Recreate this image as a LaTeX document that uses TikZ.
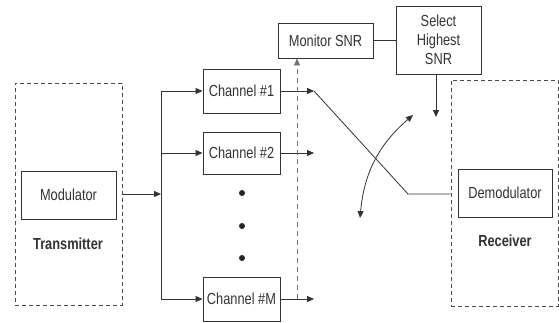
\documentclass[tikz,border=0pt]{standalone}
\usepackage{fontspec}
\setmainfont[FakeStretch=0.8]{Liberation Sans}
\usetikzlibrary{arrows.meta}
\begin{document}
\begin{tikzpicture}[x=1pt,y=-1pt,
  every node/.style={font=\fontsize{16}{19}\selectfont, text=black!80},
  blk/.style={draw=black!80, line width=0.9pt, rectangle, inner sep=0pt, align=center},
  dbox/.style={draw=black!70, line width=0.9pt, dash pattern=on 4pt off 3pt, rectangle, inner sep=0pt},
  conn/.style={draw=black!80, line width=0.8pt},
  arr/.style={conn, -{Triangle[length=7pt,width=6pt]}},
  lbl/.style={font=\fontsize{16}{19}\selectfont\bfseries}]
\useasboundingbox (0,0) rectangle (559,322);

% transmitter
\node[dbox, minimum width=107pt, minimum height=222pt] (tx) at (68.5,194) {};
\node[blk, minimum width=95pt, minimum height=48pt] (mod) at (68.5,195) {Modulator};
\node[lbl] (txl) at (68,244) {Transmitter};

% splitter
\coordinate (j1) at (161,91);
\coordinate (jm) at (161,299);
\coordinate (jin) at (161,194);
\draw[arr] (tx.east |- jin) -- (jin);
\draw[conn] (j1) -- (jm);

% channels
\node[blk, minimum width=77pt, minimum height=44pt] (c1) at (241.5,91) {Channel \#1};
\node[blk, minimum width=77pt, minimum height=42pt] (c2) at (241.5,153) {Channel \#2};
\node[blk, minimum width=77pt, minimum height=44pt] (cm) at (241.5,299) {Channel \#M};
\draw[arr] (j1) -- (c1.west);
\draw[arr] (161,153) -- (c2.west);
\draw[arr] (jm) -- (cm.west);

\fill[black!85] (242,193) circle (3pt) (242,226) circle (3pt) (242,258) circle (3pt);

% outputs
\coordinate (o1) at (314,91);
\coordinate (o2) at (314,153);
\coordinate (om) at (314,299);
\draw[arr] (c1.east) -- (o1);
\draw[arr] (c2.east) -- (o2);
\draw[arr] (cm.east) -- (om);

% monitor / select
\node[blk, minimum width=95pt, minimum height=35pt] (mon) at (325.5,40.5) {Monitor SNR};
\node[blk, minimum width=85pt, minimum height=68pt] (sel) at (438.5,40) {Select\\Highest\\SNR};
\draw[conn] (mon.east) -- (mon.east -| sel.west);
\coordinate (st) at (436,117);
\draw[arr] (sel.south -| st) -- (st);
\coordinate (dm) at (297,299);
\draw[conn, draw=black!55, dash pattern=on 5pt off 4pt, -{Triangle[length=7pt,width=6pt]}] (dm) -- (mon.south -| dm);

% receiver
\node[dbox, minimum width=107pt, minimum height=226pt] (rx) at (504.5,193) {};
\node[blk, minimum width=94pt, minimum height=48pt] (dem) at (505,193) {Demodulator};
\node[lbl] (rxl) at (505,241) {Receiver};

% switch
\coordinate (sw) at (408,194);
\draw[conn] (o1) -- (sw) -- (rx.west |- sw);
\coordinate (ca) at (360,218);
\coordinate (cb) at (413,115);
\draw[conn, {Triangle[length=7pt,width=6pt]}-{Triangle[length=7pt,width=6pt]}] (ca) to[bend left=22] (cb);
\end{tikzpicture}
\end{document}
